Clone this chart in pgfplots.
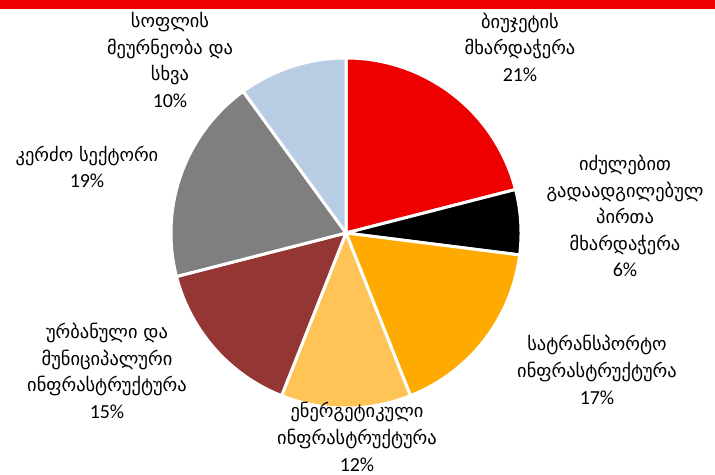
\documentclass[border=0pt]{standalone}
\usepackage{pgfplots}
\pgfplotsset{compat=1.18}
\usepackage{fontspec}
\setmainfont{Carlito}
\newfontfamily\geo{DejaVu Sans}
\definecolor{cRed}{RGB}{238,0,0}
\definecolor{cBlack}{RGB}{0,0,0}
\definecolor{cOrange}{RGB}{255,170,0}
\definecolor{cLOrange}{RGB}{255,196,85}
\definecolor{cDRed}{RGB}{148,54,52}
\definecolor{cGray}{RGB}{127,127,127}
\definecolor{cBlue}{RGB}{184,204,228}
% #1 cumulative start (%), #2 share (%), #3 colour
\newcommand{\slice}[3]{%
  \addplot[fill=#3, draw=white, line width=3pt, line join=round,
    domain={90-3.6*(#1+#2)}:{90-3.6*(#1)}, samples=80, variable=\t]
    ({346+175*cos(\t)},{242+175*sin(\t)}) -- (346,242) -- cycle;}
\newcommand{\lab}[3]{%
  \node[align=center, inner sep=0pt, font={\fontsize{18.5}{26.7}\selectfont\geo}] at (axis cs:#1,#2)
    {#3};}
\newcommand{\pc}[1]{{\fontsize{20}{26.7}\selectfont\rmfamily #1}}
\begin{document}
\begin{tikzpicture}
\begin{axis}[scale only axis, width=715bp, height=475bp,
  xmin=0, xmax=715, ymin=0, ymax=475, hide axis, clip=false]
\slice{0}{21}{cRed}
\slice{21}{6}{cBlack}
\slice{27}{17}{cOrange}
\slice{44}{12}{cLOrange}
\slice{56}{15}{cDRed}
\slice{71}{19}{cGray}
\slice{90}{10}{cBlue}
\fill[cRed] (axis cs:0,466) rectangle (axis cs:715,475);
\lab{170}{415}{სოფლის\\მეურნეობა და\\სხვა\\\pc{10\%}}
\lab{520}{428}{ბიუჯეტის\\მხარდაჭერა\\\pc{21\%}}
\lab{625}{259}{იძულებით\\გადაადგილებულ\\პირთა\\მხარდაჭერა\\\pc{6\%}}
\lab{597}{105}{სატრანსპორტო\\ინფრასტრუქტურა\\\pc{17\%}}
\lab{357}{38}{ენერგეტიკული\\ინფრასტრუქტურა\\\pc{12\%}}
\lab{107}{104}{ურბანული და\\მუნიციპალური\\ინფრასტრუქტურა\\\pc{15\%}}
\lab{87}{308}{კერძო სექტორი\\\pc{19\%}}
\end{axis}
\pgfresetboundingbox
\path[use as bounding box] (0,0) rectangle (715bp,475bp);
\end{tikzpicture}
\end{document}
